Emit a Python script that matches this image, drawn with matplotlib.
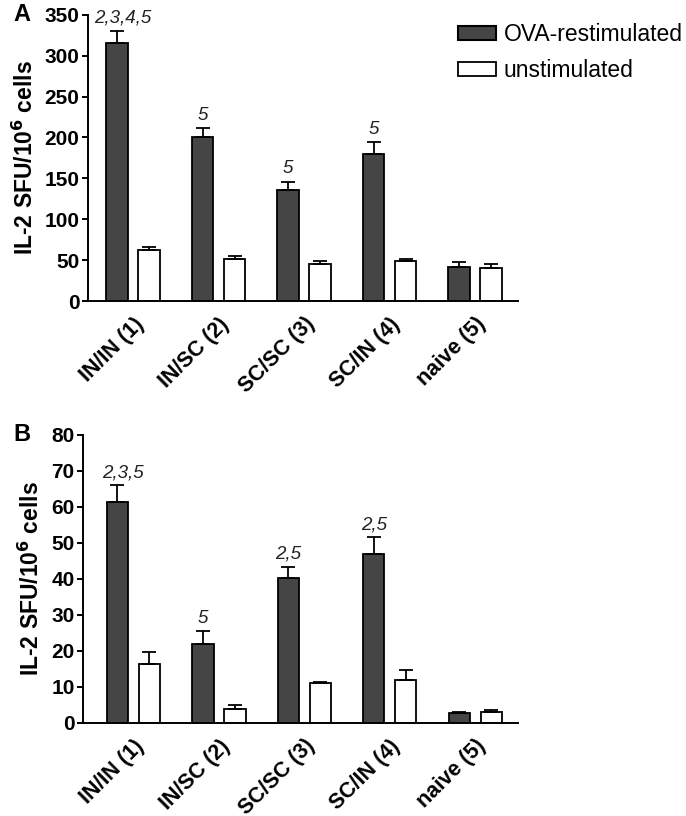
import numpy as np
import matplotlib
matplotlib.use("Agg")
import matplotlib.pyplot as plt
from matplotlib.patches import Patch

plt.rcParams['font.family'] = ['Liberation Sans', 'DejaVu Sans']

# =========================
# DATA
# =========================
groups = ["IN/IN (1)", "IN/SC (2)", "SC/SC (3)", "SC/IN (4)", "naive (5)"]

a_ova = [315, 200, 136, 180, 42]
a_ova_err = [15, 11, 10, 14, 6]
a_unstim = [62, 51, 45, 49, 40]
a_unstim_err = [4, 4, 4, 3, 5]
a_marks = ["2,3,4,5", "5", "5", "5", ""]

b_ova = [61.5, 22, 40.2, 47, 2.7]
b_ova_err = [4.5, 3.5, 3.2, 4.6, 0.4]
b_unstim = [16.5, 4, 11, 11.8, 3]
b_unstim_err = [3.2, 1.1, 0.5, 3.0, 0.5]
b_marks = ["2,3,5", "5", "2,5", "2,5", ""]

DARK = "#454545"
W = 0.25
OFF = 0.187

fig = plt.figure(figsize=(6.86, 8.16), dpi=100)
axA = fig.add_axes([0.128, 0.631, 0.627, 0.351])
axB = fig.add_axes([0.121, 0.114, 0.634, 0.353])


def draw_panel(ax, ova, ova_err, unst, unst_err, marks, ymax, step, xleft, letter, lx):
    x = np.arange(len(groups))
    ax.bar(x - OFF, ova, W, color=DARK, edgecolor="black", linewidth=1.3,
           yerr=[np.zeros(len(ova)), ova_err], capsize=4.8,
           error_kw=dict(elinewidth=1.3, capthick=1.3, ecolor="black"))
    ax.bar(x + OFF, unst, W, color="white", edgecolor="black", linewidth=1.3,
           yerr=[np.zeros(len(unst)), unst_err], capsize=4.8,
           error_kw=dict(elinewidth=1.3, capthick=1.3, ecolor="black"))
    for i, m in enumerate(marks):
        if m:
            # longer labels sit a little right of the bar in the original
            dx = 4 if len(m) > 4 else 0
            ax.annotate(m, (x[i] - OFF, ova[i] + ova_err[i]), xytext=(dx, 3),
                        textcoords="offset points", ha="center", va="bottom",
                        fontsize=13.5, style="italic", color="#222222")
    ax.set_xlim(xleft, 4.5)
    ax.set_ylim(0, ymax)
    ax.set_yticks(np.arange(0, ymax + 1, step))
    ax.set_xticks(x)
    ax.set_xticklabels(groups, rotation=45, ha="right", rotation_mode="anchor",
                       fontsize=15.5, fontweight="bold")
    for lab in ax.get_yticklabels():
        lab.set_fontweight("bold")
    ax.tick_params(axis="y", labelsize=15, width=1.4, length=4.5, pad=1.5,
                   direction="out")
    ax.tick_params(axis="x", length=0, pad=9)
    for s in ["top", "right"]:
        ax.spines[s].set_visible(False)
    for s in ["left", "bottom"]:
        ax.spines[s].set_linewidth(1.4)
    ax.set_ylabel("IL-2 SFU/10$^\\mathbf{6}$ cells", fontsize=16.5, fontweight="bold",
                  labelpad=5)
    ax.text(lx, 1.0, letter, transform=ax.transAxes, fontsize=17,
            fontweight="bold", ha="center", va="center")


draw_panel(axA, a_ova, a_ova_err, a_unstim, a_unstim_err, a_marks, 350, 50, -0.53, "A", -0.153)
draw_panel(axB, b_ova, b_ova_err, b_unstim, b_unstim_err, b_marks, 80, 10, -0.59, "B", -0.14)

handles = [Patch(facecolor=DARK, edgecolor="black", linewidth=1.5, label="OVA-restimulated"),
           Patch(facecolor="white", edgecolor="black", linewidth=1.3, label="unstimulated")]
fig.legend(handles=handles, loc="upper right", bbox_to_anchor=(1.025, 0.997),
           frameon=False, fontsize=16.5, handlelength=1.65, handleheight=0.57,
           handletextpad=0.35, labelspacing=0.55)

fig.savefig("out.png", dpi=100)
